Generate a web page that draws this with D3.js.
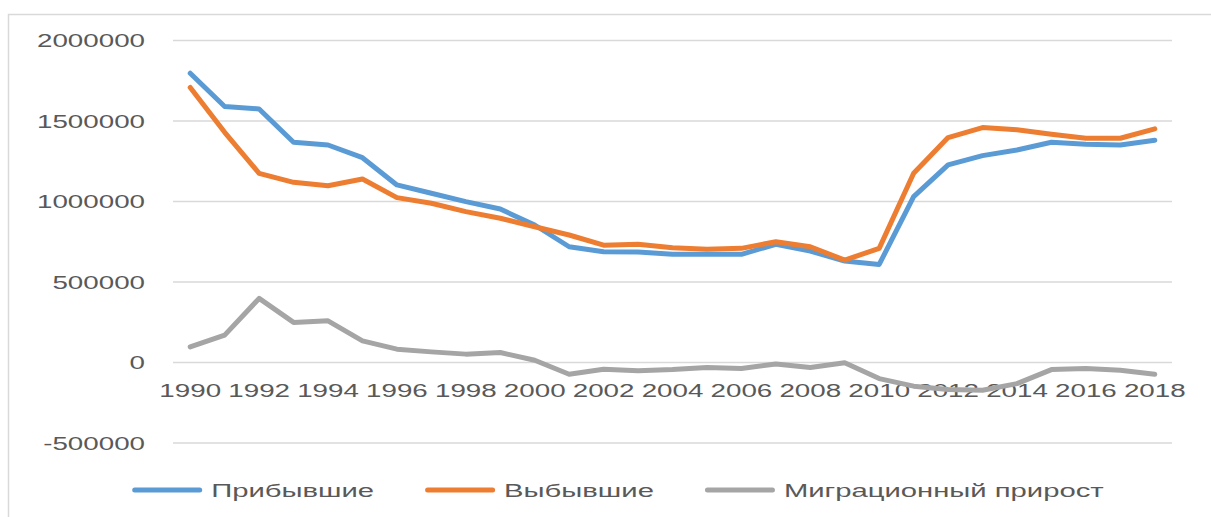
<!DOCTYPE html>
<html>
<head>
<meta charset="utf-8">
<script src="https://cdn.jsdelivr.net/npm/d3@7"></script>
<style>
  body { margin: 0; background: #fff; }
  text { font-family: "Liberation Sans", Arial, sans-serif; fill: #595959; }
</style>
</head>
<body>
<div id="chart"></div>
<script>
// Years on the category axis
const years = d3.range(1990, 2019);

// Series values
const arrived = [1797000, 1590000, 1575000, 1368000, 1351000, 1272000, 1103000, 1051000, 999000, 953000,
                 854000, 719000, 688000, 686000, 673000, 673000, 672000, 734000, 692000, 630000,
                 609000, 1030000, 1227000, 1285000, 1320000, 1368000, 1356000, 1351000, 1381000];
const departed = [1708000, 1430000, 1175000, 1119000, 1098000, 1140000, 1024000, 989000, 937000, 896000,
                  843000, 792000, 729000, 734000, 713000, 703000, 709000, 750000, 719000, 636000,
                  709000, 1175000, 1397000, 1459000, 1445000, 1418000, 1393000, 1393000, 1451000];
const netMigration = [97000, 170000, 398000, 249000, 259000, 134000, 83000, 66000, 52000, 62000,
                      14000, -73000, -42000, -52000, -44000, -31000, -37000, -9000, -31000, -2000,
                      -100000, -147000, -168000, -172000, -131000, -44000, -37000, -48000, -73000];

const yTicks = [-500000, 0, 500000, 1000000, 1500000, 2000000];
const seriesNames = ["Прибывшие", "Выбывшие", "Миграционный прирост"];
const seriesColors = ["#5B9BD5", "#ED7D31", "#A5A5A5"];

const width = 1211, height = 517;
const stretch = 1.5;        // the source text is drawn wide
const legendStretch = 1.58; // legend glyphs are a little wider still

const svg = d3.select("#chart").append("svg")
  .attr("width", width)
  .attr("height", height);

// chart frame (left and top edges are visible)
svg.append("path")
  .attr("d", `M8.5,${height} V14.5 H${width}`)
  .attr("fill", "none")
  .attr("stroke", "#D9D9D9")
  .attr("stroke-width", 1.5);

const plot = { left: 173, right: 1172, top: 40.5, bottom: 443 };

const x = d3.scalePoint()
  .domain(years)
  .range([plot.left, plot.right])
  .padding(0.5);

const y = d3.scaleLinear()
  .domain([-500000, 2000000])
  .range([plot.bottom, plot.top]);

// gridlines
svg.append("g")
  .selectAll("line")
  .data(yTicks)
  .enter()
  .append("line")
  .attr("x1", plot.left)
  .attr("x2", plot.right)
  .attr("y1", d => y(d))
  .attr("y2", d => y(d))
  .attr("stroke", "#D9D9D9")
  .attr("stroke-width", 1.5);

// y tick labels
svg.append("g")
  .selectAll("text")
  .data(yTicks)
  .enter()
  .append("text")
  .attr("transform", d => `translate(145,${y(d)}) scale(${stretch},1)`)
  .attr("text-anchor", "end")
  .attr("dy", "0.36em")
  .attr("font-size", 18.5)
  .text(d => d);

// x tick labels (every other year, sitting below the zero line)
svg.append("g")
  .selectAll("text")
  .data(years.filter(d => d % 2 === 0))
  .enter()
  .append("text")
  .attr("transform", d => `translate(${x(d)},${y(0) + 28}) scale(${stretch},1)`)
  .attr("text-anchor", "middle")
  .attr("dy", "0.36em")
  .attr("font-size", 18.5)
  .text(d => d);

// lines
const allSeries = [arrived, departed, netMigration];
const line = d3.line()
  .x((d, i) => x(years[i]))
  .y(d => y(d));

svg.append("g")
  .selectAll("path")
  .data(allSeries)
  .enter()
  .append("path")
  .attr("d", d => line(d))
  .attr("fill", "none")
  .attr("stroke", (d, i) => seriesColors[i])
  .attr("stroke-width", 5)
  .attr("stroke-linejoin", "round")
  .attr("stroke-linecap", "round");

// legend, centred under the chart frame
const legendY = 490, swatch = 70, swatchGap = 9, itemGap = 51, legendCentre = 618;
const legend = svg.append("g");
const items = legend.selectAll("g")
  .data(seriesNames)
  .enter()
  .append("g");

items.append("text")
  .attr("font-size", 18.5)
  .attr("dy", "0.36em")
  .text(d => d);

const widths = [];
items.select("text").each(function () { widths.push(this.getComputedTextLength() * legendStretch); });
const total = d3.sum(widths) + seriesNames.length * (swatch + swatchGap) + (seriesNames.length - 1) * itemGap;
let cursor = legendCentre - total / 2;

items.each(function (d, i) {
  const g = d3.select(this);
  g.append("line")
    .attr("x1", cursor + 2.5)
    .attr("x2", cursor + swatch - 2.5)
    .attr("y1", legendY)
    .attr("y2", legendY)
    .attr("stroke", seriesColors[i])
    .attr("stroke-width", 5)
    .attr("stroke-linecap", "round");
  g.select("text")
    .attr("transform", `translate(${cursor + swatch + swatchGap},${legendY}) scale(${legendStretch},1)`);
  cursor += swatch + swatchGap + widths[i] + itemGap;
});
</script>
</body>
</html>
